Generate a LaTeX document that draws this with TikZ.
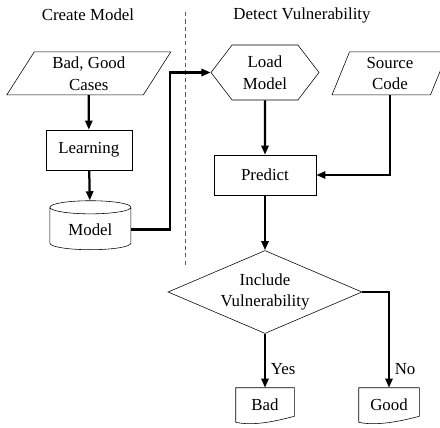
\documentclass[tikz,border=0pt]{standalone}
\usepackage{fontspec}
\setmainfont{Liberation Serif}
\usetikzlibrary{shapes.geometric,shapes.symbols,arrows.meta}

\tikzset{
  procbox/.style={draw, rectangle, minimum height=1cm, inner sep=2pt},
  iobox/.style={draw, trapezium, trapezium stretches body=true,
    minimum height=1.075cm, inner sep=1pt},
  dbbox/.style={draw, cylinder, shape border rotate=90, shape aspect=0.28,
    minimum width=2.025cm, minimum height=1.225cm, inner sep=1pt},
  hexbox/.style={draw, signal, signal to=west and east, signal pointer angle=105,
    minimum width=2.7cm, minimum height=1.375cm, inner sep=1pt},
  decbox/.style={draw, diamond, aspect=2.3, minimum width=4.85cm,
    minimum height=2.075cm, inner sep=0pt},
  docbox/.style={minimum width=#1, minimum height=0.85cm, inner sep=1pt},
  link/.style={line width=1.6pt, -{Triangle[length=2.3mm,width=1.8mm]}},
  divider/.style={gray!70!black, dash pattern=on 3pt off 2.2pt, line width=0.6pt}
}

\begin{document}
\begin{tikzpicture}[font=\fontsize{12}{15.5}\selectfont, align=center]
\useasboundingbox (0,0) rectangle (11,10.675);

% column headings and separator
\node (lefttitle) at (2.2,10.3) {Create Model};
\node (righttitle) at (7.55,10.3) {Detect Vulnerability};
\draw[divider] (4.625,10.375) -- (4.625,4.05);

% training side
\node[iobox, trapezium left angle=53, trapezium right angle=127, minimum width=4.1cm] (cases) at (2.22,8.84) {Bad, Good\\Cases};
\node[procbox, minimum width=2.15cm] (learn) at (2.22,6.925) {Learning};
\node[dbbox] (model) at (2.26,4.9375) {Model};

% detection side
\node[hexbox] (load) at (6.625,8.8625) {Load\\Model};
\node[iobox, trapezium left angle=64, trapezium right angle=116, minimum width=2.9cm] (source) at (9.75,8.84) {Source\\Code};
\node[procbox, minimum width=2.55cm] (predict) at (6.625,6.3) {Predict};
\node[decbox] (decide) at (6.625,3.375) {Include\\Vulnerability};
\node[docbox=1.45cm] (bad) at (6.625,0.55) {Bad};
\node[docbox=1.5cm] (good) at (9.725,0.55) {Good};

% document outlines with wavy bottom
\foreach \d in {bad,good}
  \draw (\d.south west) -- (\d.north west) -- (\d.north east) -- ([yshift=1.5mm]\d.south east)
    .. controls +(-0.45,-0.12) and +(0.45,-0.1) .. (\d.south west);

% connectors
\coordinate (bend) at (4.25,8.8625);
\draw[link] (cases) -- (learn);
\draw[link] (learn) -- (model);
\draw[link] (model) -| (bend) -- (load.west);
\draw[link] (load) -- (predict);
\draw[link] (source) |- (predict);
\draw[link] (predict) -- (decide);
\draw[link] (decide) -- node[right, pos=0.65] {Yes} (bad);
\draw[link] (decide) -| node[right, pos=0.9] {No} (good);
\end{tikzpicture}
\end{document}
